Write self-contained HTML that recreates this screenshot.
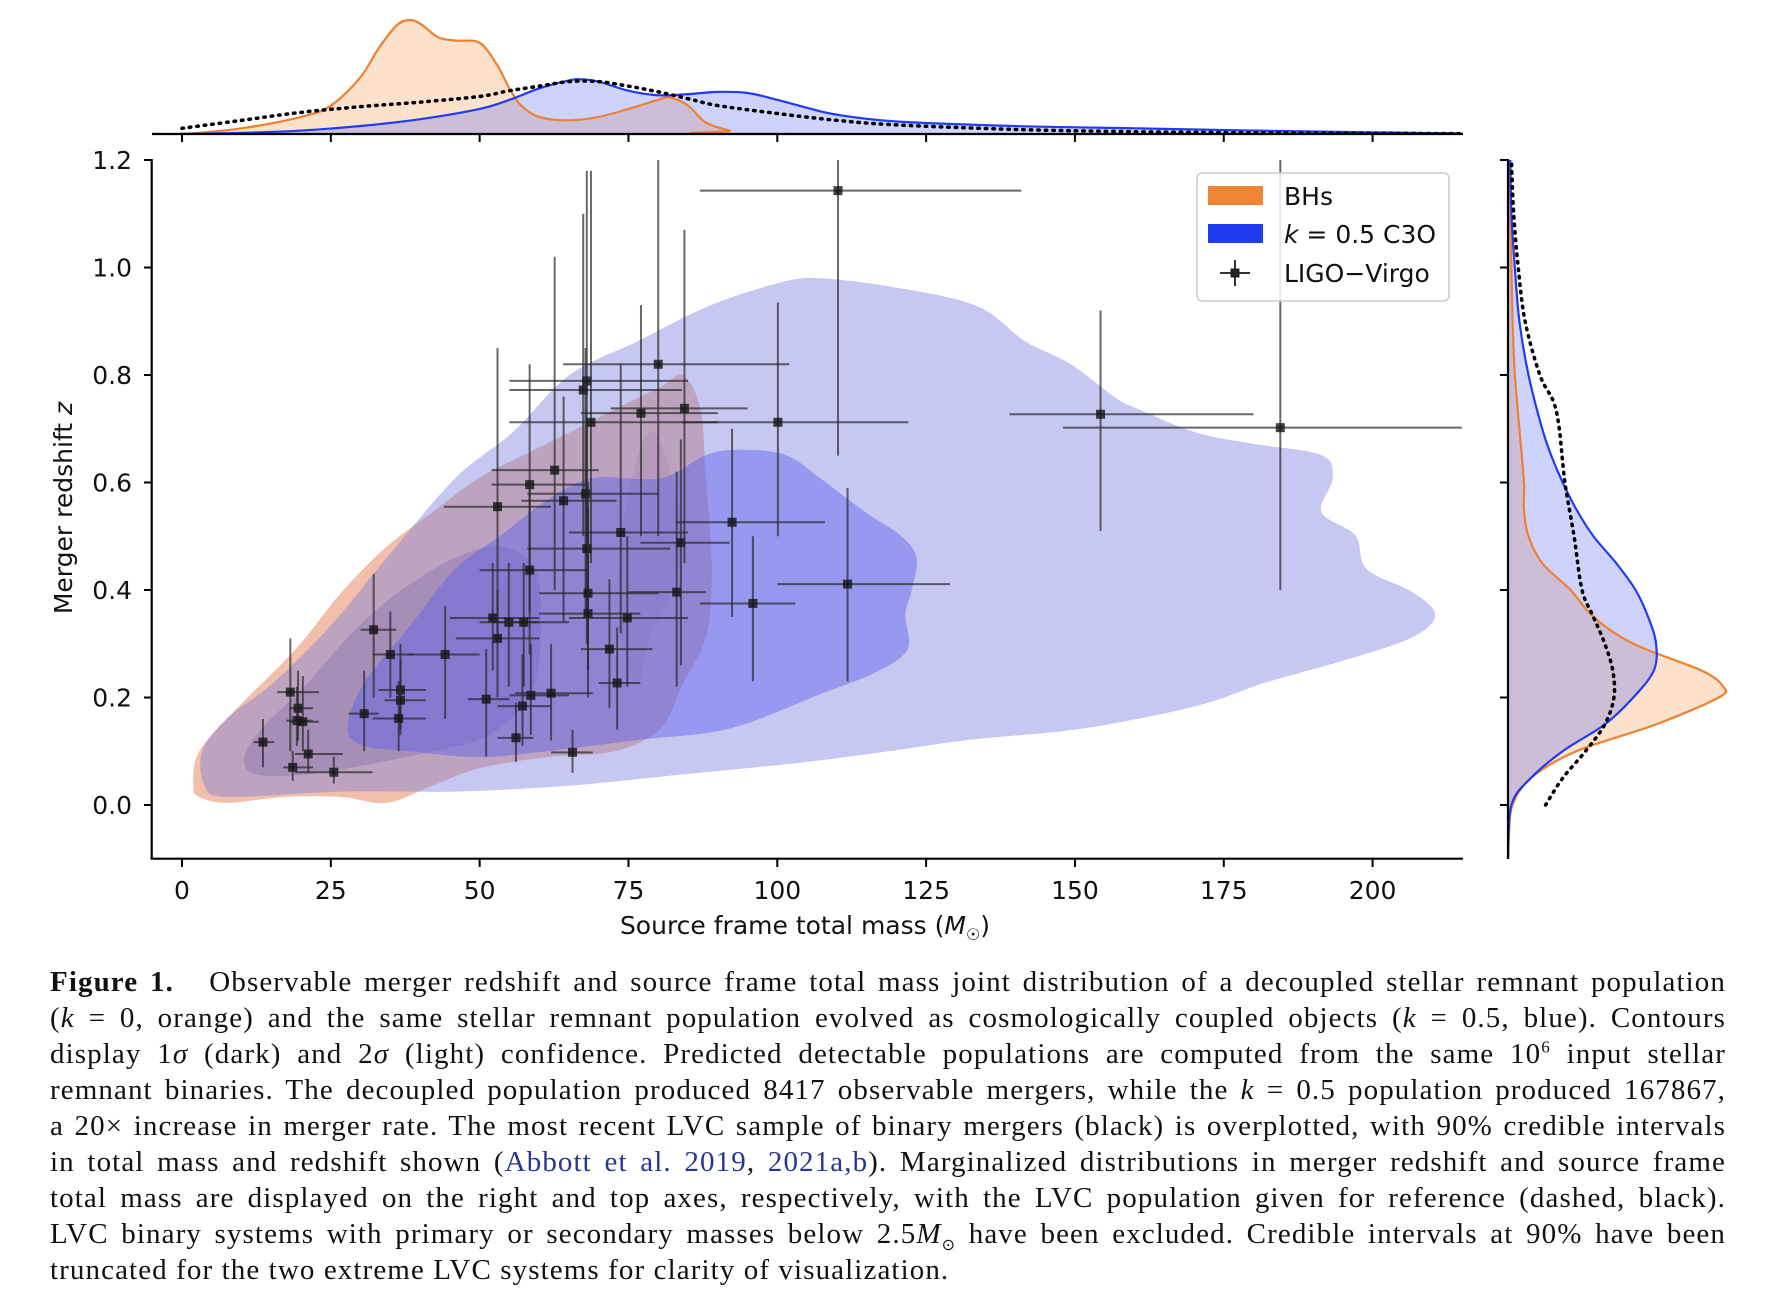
<!DOCTYPE html>
<html><head><meta charset="utf-8">
<style>
html,body{margin:0;padding:0;background:#fff;}
#wrap{position:relative;width:1786px;height:1312px;overflow:hidden;background:#fff;}
svg text{font-family:"DejaVu Sans","Liberation Sans",sans-serif;}
#caption{position:absolute;left:50px;top:964px;width:1676px;font-family:"Liberation Serif",serif;font-size:29px;letter-spacing:1.1px;color:#111;}
#caption div{height:36px;line-height:36px;text-align:justify;text-align-last:justify;white-space:nowrap;}
#caption div.last{text-align-last:left;}
#caption .ref{color:#2a3590;}
</style></head>
<body>
<div id="wrap">
<svg id="chart" width="1786" height="960"></svg>
<div id="caption">
<div><b>Figure 1.</b>&nbsp;&nbsp; Observable merger redshift and source frame total mass joint distribution of a decoupled stellar remnant population</div>
<div>(<i>k</i> = 0, orange) and the same stellar remnant population evolved as cosmologically coupled objects (<i>k</i> = 0.5, blue). Contours</div>
<div>display 1<i>σ</i> (dark) and 2<i>σ</i> (light) confidence. Predicted detectable populations are computed from the same 10<sup style="font-size:17px;line-height:0">6</sup> input stellar</div>
<div>remnant binaries. The decoupled population produced 8417 observable mergers, while the <i>k</i> = 0.5 population produced 167867,</div>
<div>a 20× increase in merger rate. The most recent LVC sample of binary mergers (black) is overplotted, with 90% credible intervals</div>
<div>in total mass and redshift shown (<span class="ref">Abbott et al. 2019</span>, <span class="ref">2021a,b</span>). Marginalized distributions in merger redshift and source frame</div>
<div>total mass are displayed on the right and top axes, respectively, with the LVC population given for reference (dashed, black).</div>
<div>LVC binary systems with primary or secondary masses below 2.5<i>M</i><sub style="font-size:16px;line-height:0">⊙</sub> have been excluded. Credible intervals at 90% have been</div>
<div class="last">truncated for the two extreme LVC systems for clarity of visualization.</div>
</div>
</div>
<script>
// ---- LIGO-Virgo points ----
const lvcMass = [13.6,18.2,19.5,19.3,20.3,18.6,21.2,25.5,32.2,30.6,35,36.7,36.7,36.4,44.2,51.1,52.2,53,53,54.9,57.4,56.1,57.2,58.6,58.4,58.4,62,62.6,64.1,65.6,67.4,68,68.7,67.8,68,68.2,68.2,71.8,73.1,73.7,74.8,77.1,80,83.1,83.8,84.4,92.4,95.9,100.1,110.2,111.8,154.3,184.5];
const lvcZ = [.117,.21,.18,.157,.155,.07,.095,.061,.326,.17,.28,.214,.195,.161,.28,.197,.348,.31,.555,.34,.34,.125,.184,.204,.596,.437,.208,.623,.566,.098,.772,.789,.712,.579,.477,.394,.356,.29,.227,.507,.348,.729,.82,.396,.488,.738,.526,.375,.712,1.143,.411,.727,.702];
const lvcMassLo = [12,16,18,17.5,18,17,19,19,30,28,32,33,34,32,38,48,45,46,44,50,52,53,53,55,52,50,56,52,57,62,55,55,55,58,58,60,60,67,70,65,65,67,64,75,77,72,83,87,84,87,100,139,148];
const lvcMassHi = [15.5,23,22,22,23,22,27,32,36,33,39,41,41,41,50,55,60,60,62,60,65,59,62,65,68,68,69,70,73,69,84,85,90,80,82,80,77,79,77,85,85,90,102,88,92,95,108,103,122,141,129,180,215];
const lvcZLo = [.07,.1,.12,.11,.1,.045,.06,.04,.2,.1,.2,.14,.13,.1,.16,.09,.25,.2,.32,.22,.22,.08,.11,.13,.36,.28,.12,.4,.34,.06,.5,.5,.45,.35,.3,.25,.2,.18,.14,.32,.22,.5,.5,.22,.26,.45,.35,.23,.5,.65,.23,.51,.4];
const lvcZHi = [.16,.31,.25,.22,.24,.1,.14,.09,.43,.25,.36,.3,.27,.23,.37,.29,.45,.4,.85,.45,.45,.19,.28,.3,.82,.6,.3,1.02,.76,.14,1.1,1.18,1.18,.85,.72,.6,.55,.42,.33,.82,.5,.93,1.2,.62,.68,1.07,.7,.5,.935,1.2,.59,.92,1.2];

// ---- contour boundaries (mass, z) ----
const blue2M = [3.8,3.4,7.7,15.3,24.9,34.4,45.9,55.5,65.1,76.6,88,99.5,107.2,122.5,134,141.6,149.3,156.9,160.8,170.3,179.9,191.4,193.3,191.4,197.1,199,206.7,210.5,206.7,195.2,181.8,170.3,151.2,132.1,118.7,103.3,84.2,65.1,45.9,26.8,7.7];
const blue2Z = [.036,.1,.163,.227,.333,.46,.608,.693,.8,.863,.926,.969,.98,.958,.926,.863,.82,.757,.736,.693,.672,.651,.608,.545,.502,.439,.396,.354,.312,.269,.227,.184,.142,.121,.1,.078,.057,.036,.025,.025,.015];
const blue1M = [27.8,30.6,38.3,45.9,53.6,61.2,68.9,80.4,88,93.8,101.4,107.2,114.8,120.6,123.4,122.5,121.5,121.9,116.7,107.2,91.9,76.6,61.2,49.8,38.3,30.6];
const blue1Z = [.142,.227,.333,.439,.502,.566,.608,.608,.651,.661,.651,.608,.545,.502,.46,.396,.354,.29,.248,.206,.142,.121,.1,.089,.1,.11];
const orange2M = [1.9,2.9,9.6,19.1,26.8,34.4,42.1,49.8,57.4,65.1,72.7,80.4,84.2,87.1,88,89,88,84.2,80.4,72.7,61.2,49.8,42.1,34.4,26.8,17.2,7.7,2.9];
const orange2Z = [.036,.1,.184,.29,.396,.481,.545,.608,.651,.693,.736,.778,.799,.736,.608,.439,.312,.227,.142,.1,.089,.068,.036,.004,.015,.015,.004,.015];
const orange1M = [10.5,13.4,21.1,28.7,36.4,45.9,53.6,59.3,60.3,59.3,55.5,49.8,42.1,32.5,21.1,12.4];
const orange1Z = [.089,.142,.227,.322,.396,.46,.481,.439,.333,.227,.163,.121,.1,.078,.057,.057];
const orangeBlobM = [76.6,78.5,82.3,84.2,82.3,79.4,76.6,73.7,73.7];
const orangeBlobZ = [.227,.312,.396,.502,.608,.693,.651,.481,.312];

// ---- top marginal (mass) ----
const topOrangeM = [-5,0,10,20,25,30,33,36,38,40,43,46,50,53,55,57,60,65,70,75,80,82,85,88,92,95,215];
const topOrangeD = [0,0,5,15,25,50,75,95,100,97,85,82,80,60,40,25,15,12,15,22,30,32,25,10,3,0,0];
const topBlueM = [-5,0,10,20,30,40,50,55,60,65,67,70,75,80,85,90,95,100,105,110,120,140,160,180,200,215];
const topBlueD = [0,0,1,3,7,13,22,30,40,47,48,46,38,34,35,37,36,30,23,17,11,7,5,3,1.5,0.5];
const topLvcM = [0,10,20,30,40,50,55,60,65,70,75,80,85,90,100,110,120,140,160,180,200,215];
const topLvcD = [5,12,19,24,28,33,38,42,46,46,42,37,31,25,18,12,8,4,2,1,0.5,0.3];

// ---- right marginal (redshift) ----
const rightOrangeZ = [-0.1,-0.05,0,0.05,0.1,0.15,0.2,0.22,0.25,0.3,0.35,0.4,0.45,0.5,0.55,0.6,0.7,0.8,0.9,1.0,1.1,1.2];
const rightOrangeD = [0,1,4,20,60,130,185,189,170,110,75,55,30,18,14,14,10,6,4,3,2,1];
const rightBlueZ = [-0.1,0,0.05,0.1,0.15,0.2,0.25,0.3,0.35,0.4,0.45,0.5,0.55,0.6,0.65,0.7,0.8,0.9,1.0,1.1,1.2];
const rightBlueD = [0,3,20,48,85,110,128,130,123,112,95,75,60,48,38,30,18,10,6,3,2];
const rightLvcZ = [0,0.05,0.1,0.15,0.2,0.25,0.3,0.35,0.4,0.5,0.6,0.7,0.75,0.8,0.9,1.0,1.1,1.2];
const rightLvcD = [33,48,68,85,93,92,85,75,65,58,50,45,40,28,15,9,5,3];

const xTicks = [0,25,50,75,100,125,150,175,200];
const yTicks = [0.0,0.2,0.4,0.6,0.8,1.0,1.2];

// axis functions
const X = m => 182 + m*5.953;
const Y = z => 805 - z*537.5;
const topBase = 134, topScale = 1.139;
const TY = d => topBase - d*topScale;
const rightBase = 1508, rightScale = 1.139;
const RX = d => rightBase + d*rightScale;

const svg = document.getElementById('chart');
const NS = 'http://www.w3.org/2000/svg';
function mk(tag, attrs, parent){
  const e = document.createElementNS(NS, tag);
  for (const k in attrs) e.setAttribute(k, attrs[k]);
  (parent||svg).appendChild(e);
  return e;
}
function smoothClosed(pts){
  const n = pts.length; let d = `M${pts[0][0]},${pts[0][1]}`;
  for (let i=0;i<n;i++){
    const p0=pts[(i-1+n)%n],p1=pts[i],p2=pts[(i+1)%n],p3=pts[(i+2)%n];
    const c1=[p1[0]+(p2[0]-p0[0])/6,p1[1]+(p2[1]-p0[1])/6];
    const c2=[p2[0]-(p3[0]-p1[0])/6,p2[1]-(p3[1]-p1[1])/6];
    d+=`C${c1[0]},${c1[1]} ${c2[0]},${c2[1]} ${p2[0]},${p2[1]}`;
  }
  return d+'Z';
}
function smoothOpen(pts){
  const n = pts.length; let d = `M${pts[0][0]},${pts[0][1]}`;
  for (let i=0;i<n-1;i++){
    const p0=pts[Math.max(i-1,0)],p1=pts[i],p2=pts[i+1],p3=pts[Math.min(i+2,n-1)];
    const c1=[p1[0]+(p2[0]-p0[0])/6,p1[1]+(p2[1]-p0[1])/6];
    const c2=[p2[0]-(p3[0]-p1[0])/6,p2[1]-(p3[1]-p1[1])/6];
    d+=`C${c1[0]},${c1[1]} ${c2[0]},${c2[1]} ${p2[0]},${p2[1]}`;
  }
  return d;
}
const defs = mk('defs',{});
const cp = mk('clipPath',{id:'mainclip'},defs);
mk('rect',{x:152,y:150,width:1311,height:709},cp);
const g = mk('g',{'clip-path':'url(#mainclip)'});

function contourG(ms,zs,fill,name){
  const pts = ms.map((m,i)=>[X(m),Y(zs[i])]);
  const p = mk('path',{d:smoothClosed(pts),fill:fill},g);
  
  
}
contourG(orange2M,orange2Z,'rgba(232,140,100,0.55)','orange-2sigma-contour');
contourG(orange1M,orange1Z,'rgba(150,110,130,0.45)','orange-1sigma-contour');
contourG(orangeBlobM,orangeBlobZ,'rgba(200,140,130,0.35)','orange-1sigma-contour-b');
contourG(blue2M,blue2Z,'rgba(120,125,225,0.42)','blue-2sigma-contour');
contourG(blue1M,blue1Z,'rgba(90,95,235,0.45)','blue-1sigma-contour');

lvcMass.forEach((m,i)=>{
  const eg = mk('g',{},g);
  
  
  mk('line',{x1:X(lvcMassLo[i]),x2:X(lvcMassHi[i]),y1:Y(lvcZ[i]),y2:Y(lvcZ[i]),stroke:'rgba(40,40,40,0.7)','stroke-width':2},eg);
  mk('line',{x1:X(m),x2:X(m),y1:Y(lvcZLo[i]),y2:Y(lvcZHi[i]),stroke:'rgba(40,40,40,0.7)','stroke-width':2},eg);
  mk('rect',{x:X(m)-4.5,y:Y(lvcZ[i])-4.5,width:9,height:9,fill:'rgba(20,20,20,0.8)'},eg);
});

mk('line',{x1:151.7,x2:151.7,y1:159,y2:859,stroke:'#000','stroke-width':2.2});
mk('line',{x1:150.6,x2:1463,y1:858.7,y2:858.7,stroke:'#000','stroke-width':2.2});
xTicks.forEach(t=>{
  mk('line',{x1:X(t),x2:X(t),y1:859,y2:867,stroke:'#000','stroke-width':2});
  const tx = mk('text',{x:X(t),y:899,'font-size':25,'text-anchor':'middle',fill:'#111'});
  tx.textContent = t;
  
  
  mk('line',{x1:X(t),x2:X(t),y1:topBase,y2:topBase+8,stroke:'#000','stroke-width':2});
});
yTicks.forEach(t=>{
  mk('line',{x1:144,x2:152,y1:Y(t),y2:Y(t),stroke:'#000','stroke-width':2});
  const ty = mk('text',{x:132,y:Y(t)+9,'font-size':25,'text-anchor':'end',fill:'#111'});
  ty.textContent = t.toFixed(1);
  
  
  mk('line',{x1:rightBase-8,x2:rightBase,y1:Y(t),y2:Y(t),stroke:'#000','stroke-width':2});
});
const xl = mk('text',{x:805,y:934,'font-size':25,'text-anchor':'middle',fill:'#111'});
xl.innerHTML = 'Source frame total mass (<tspan font-style="italic">M</tspan><tspan font-size="16" dy="6">☉</tspan><tspan dy="-6">)</tspan>';


const yl = mk('text',{x:0,y:0,'font-size':25,'text-anchor':'middle',fill:'#111',transform:'translate(72,508) rotate(-90)'});
yl.innerHTML = 'Merger redshift <tspan font-style="italic">z</tspan>';



// top marginal
function topPath(ms, ds){ return smoothOpen(ms.map((m,i)=>[X(m),TY(ds[i])])); }
function topArea(ms, ds){ return topPath(ms,ds)+`L${X(ms[ms.length-1])},${topBase}L${X(ms[0])},${topBase}Z`; }
const tcp = mk('clipPath',{id:'topclip'},defs);
mk('rect',{x:152,y:0,width:1311,height:topBase},tcp);
const tg = mk('g',{'clip-path':'url(#topclip)'});


mk('path',{d:topArea(topOrangeM,topOrangeD),fill:'rgba(245,170,110,0.35)'},tg);
mk('path',{d:topArea(topBlueM,topBlueD),fill:'rgba(90,110,240,0.3)'},tg);
const to = mk('path',{d:topPath(topOrangeM,topOrangeD),fill:'none',stroke:'#ee8030','stroke-width':2.2},tg);


const tb = mk('path',{d:topPath(topBlueM,topBlueD),fill:'none',stroke:'#1f3cf0','stroke-width':2.2},tg);


const tl = mk('path',{d:topPath(topLvcM,topLvcD),fill:'none',stroke:'#000','stroke-width':3.5,'stroke-dasharray':'1.5 6','stroke-linecap':'round'},tg);


mk('line',{x1:152,x2:1463,y1:topBase,y2:topBase,stroke:'#000','stroke-width':2.2});

// right marginal
function rPath(zs, ds){ return smoothOpen(zs.map((z,i)=>[RX(ds[i]),Y(z)])); }
function rArea(zs, ds){ return rPath(zs,ds)+`L${rightBase},${Y(zs[zs.length-1])}L${rightBase},${Y(zs[0])}Z`; }
const rg = mk('g',{});


mk('path',{d:rArea(rightOrangeZ,rightOrangeD),fill:'rgba(245,170,110,0.35)'},rg);
mk('path',{d:rArea(rightBlueZ,rightBlueD),fill:'rgba(90,110,240,0.3)'},rg);
const ro = mk('path',{d:rPath(rightOrangeZ,rightOrangeD),fill:'none',stroke:'#ee8030','stroke-width':2.2},rg);


const rb = mk('path',{d:rPath(rightBlueZ,rightBlueD),fill:'none',stroke:'#1f3cf0','stroke-width':2.2},rg);


const rl = mk('path',{d:rPath(rightLvcZ,rightLvcD),fill:'none',stroke:'#000','stroke-width':3.5,'stroke-dasharray':'1.5 6','stroke-linecap':'round'},rg);


mk('line',{x1:rightBase,x2:rightBase,y1:159,y2:859,stroke:'#000','stroke-width':2.2});

// legend
const lg = mk('g',{});


mk('rect',{x:1197,y:173,width:252,height:128,rx:5,fill:'rgba(255,255,255,0.85)',stroke:'#ccc','stroke-width':1.5},lg);
mk('rect',{x:1208,y:186,width:55,height:19,fill:'#ef8535'},lg);
mk('rect',{x:1208,y:224,width:55,height:19,fill:'#1f3cf0'},lg);
mk('line',{x1:1220,x2:1250,y1:273,y2:273,stroke:'#333','stroke-width':2},lg);
mk('line',{x1:1235,x2:1235,y1:260,y2:286,stroke:'#333','stroke-width':2},lg);
mk('rect',{x:1230.5,y:268.5,width:9,height:9,fill:'#222'},lg);
const l1 = mk('text',{x:1284,y:205,'font-size':25,fill:'#111'},lg); l1.textContent='BHs';


const l2 = mk('text',{x:1284,y:243,'font-size':25,fill:'#111'},lg);
l2.innerHTML='<tspan font-style="italic">k</tspan> = 0.5 C3O';


const l3 = mk('text',{x:1284,y:282,'font-size':25,fill:'#111'},lg); l3.textContent='LIGO−Virgo';


</script>
</body></html>
